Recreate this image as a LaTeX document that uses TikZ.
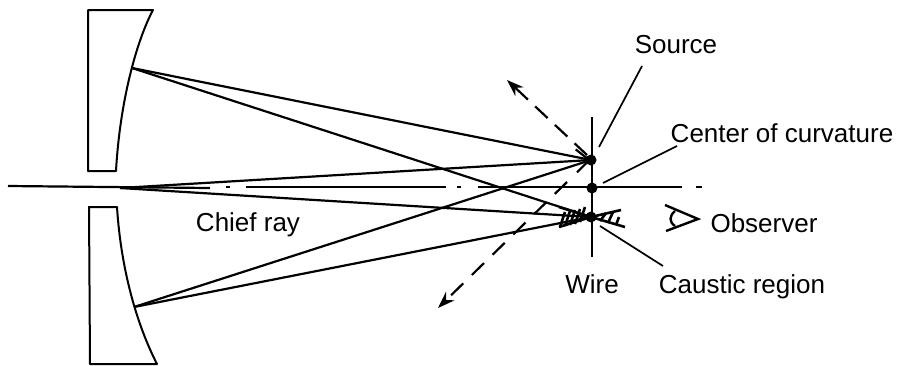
\documentclass[tikz,border=0pt]{standalone}
\usepackage{fontspec}
\setmainfont{Liberation Sans}
\usetikzlibrary{arrows.meta}

\begin{document}
\begin{tikzpicture} [x=1pt, y=-1pt,
       >={Stealth[length=17pt,width=12pt]}, black, line width=2pt,
       every node/.style={font=\fontsize{26}{30}\selectfont},
       label/.style={anchor=base, inner sep=0pt},
       dot/.style={circle, fill=black, inner sep=0pt, minimum size=11pt},
       ray/.style={line width=2.2pt},
       leader/.style={line width=1.7pt},
       axisline/.style={line width=2.2pt},
       hatchline/.style={line width=2.6pt}]
	\useasboundingbox (0,0) rectangle (904,365);

	%% Mirror halves
	\draw[line join=round] (88,10) -- (153,10) .. controls (137,40) and (120,100) .. (116,171)
		-- (88,171) -- cycle;
	\draw[line join=round] (89,207) -- (117,207) .. controls (121,270) and (137,325) .. (157,364)
		-- (90,364) -- cycle;

	%% Named places
	\coordinate (mirrortop) at (132,68);
	\coordinate (mirrorbot) at (134,307);
	\coordinate (vertex) at (120,188);
	\node [dot] (source) at (591,160) {};
	\node [dot] (center) at (592,188) {};
	\node [dot] (wire) at (591,217) {};
	\coordinate (wiretop) at (592,117);
	\coordinate (wirebot) at (592,257);

	%% Axis, broken up by hand
	\draw[axisline] (8,186) -- (210,188);
	\draw[axisline] (226,187) -- (230,187);
	\draw[axisline] (246,187) -- (446,187);
	\draw[axisline] (457,187) -- (461,187);
	\draw[axisline] (478,187) -- (682,187);
	\draw[axisline] (696,187) -- (702,187);

	%% Wire
	\draw[line width=2.8pt] (wiretop) -- (wirebot);

	%% Rays
	\draw[ray] (mirrortop) -- (source.center);
	\draw[ray] (mirrortop) -- (wire.center);
	\draw[ray] (mirrorbot) -- (source.center);
	\draw[ray] (mirrorbot) -- (wire.center);
	\draw[ray,-{Straight Barb[length=13pt,width=23pt]}] (vertex) -- (source.center);
	\draw[ray] (vertex) -- (wire.center);

	%% Wavefront direction
	\coordinate (upstart) at (587,155);
	\coordinate (upend) at (507,80);
	\coordinate (lowstart) at (567,182);
	\coordinate (lowend) at (438,308);
	\draw[->,ray,dash pattern=on 17pt off 10pt] (upstart) -- (upend);
	\draw[->,ray,dash pattern=on 17pt off 12pt] (lowstart) -- (lowend);

	%% Caustic region
	\draw[hatchline] (559,207) -- (wire.center) -- (621,210);
	\draw[hatchline] (559,227) -- (wire.center) -- (625,227);
	\foreach \hx/\hy in {560/227,565/226,570/225,575/224,580/222}
		{\draw[hatchline] (\hx,\hy) -- ++(5,-15);}
	\draw[hatchline] (600,221) -- (606,213);
	\draw[hatchline] (608,223) -- (613,212);
	\draw[hatchline] (616,225) -- (619,217);

	%% Eye
	\coordinate (eyetip) at (698,219);
	\draw[line width=2.4pt,line join=miter] (665,205) -- (eyetip) -- (666,231);
	\draw[line width=2.4pt] (675,211) .. controls (669,216) and (669,222) .. (675,226);

	%% Labels and leaders
	\node [label] (sourcelab) at (676,53) {Source};
	\node [label] (centerlab) at (782,142) {Center of curvature};
	\node [label] (observerlab) at (764,232) {Observer};
	\node [label] (causticlab) at (742,293) {Caustic region};
	\node [label] (wirelab) at (592,293) {Wire};
	\node [label] (chieflab) at (248,231) {Chief ray};
	\coordinate (sourcefoot) at (599,147);
	\coordinate (centerfoot) at (603,183);
	\coordinate (causticfoot) at (600,226);
	\draw[leader] (642,66) -- (sourcefoot);
	\draw[leader] (677,146) -- (centerfoot);
	\draw[leader] (663,266) -- (causticfoot);
\end{tikzpicture}
\end{document}
